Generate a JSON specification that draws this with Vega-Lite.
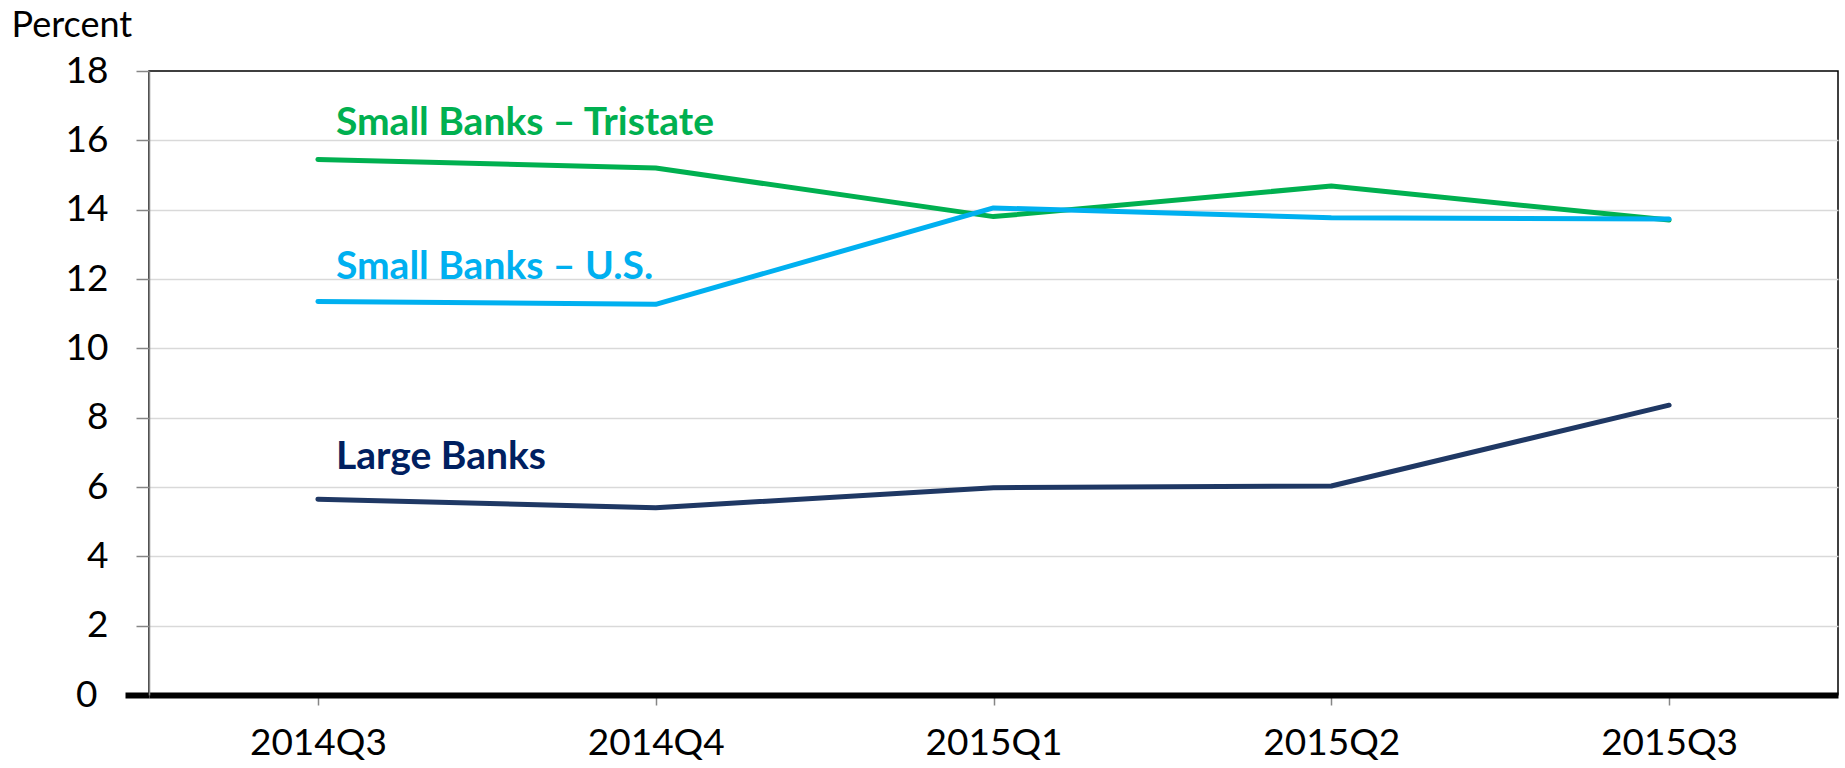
{
  "$schema": "https://vega.github.io/schema/vega-lite/v6.json",
  "width": 1689,
  "height": 624,
  "autosize": {"type": "none"},
  "padding": {"left": 149, "top": 71, "right": 7, "bottom": 73},
  "config": {"view": {"stroke": "black", "strokeWidth": 1.5}, "font": "Lato"},
  "datasets": {
    "lines": [
      {"series": "Small Banks – Tristate", "quarter": "2014Q3", "value": 15.45},
      {"series": "Small Banks – Tristate", "quarter": "2014Q4", "value": 15.2},
      {"series": "Small Banks – Tristate", "quarter": "2015Q1", "value": 13.8},
      {"series": "Small Banks – Tristate", "quarter": "2015Q2", "value": 14.68},
      {"series": "Small Banks – Tristate", "quarter": "2015Q3", "value": 13.7},
      {"series": "Small Banks – U.S.", "quarter": "2014Q3", "value": 11.35},
      {"series": "Small Banks – U.S.", "quarter": "2014Q4", "value": 11.27},
      {"series": "Small Banks – U.S.", "quarter": "2015Q1", "value": 14.05},
      {"series": "Small Banks – U.S.", "quarter": "2015Q2", "value": 13.77},
      {"series": "Small Banks – U.S.", "quarter": "2015Q3", "value": 13.73},
      {"series": "Large Banks", "quarter": "2014Q3", "value": 5.65},
      {"series": "Large Banks", "quarter": "2014Q4", "value": 5.4},
      {"series": "Large Banks", "quarter": "2015Q1", "value": 5.98},
      {"series": "Large Banks", "quarter": "2015Q2", "value": 6.03},
      {"series": "Large Banks", "quarter": "2015Q3", "value": 8.36}
    ],
    "labels": [
      {"series": "Small Banks – Tristate", "quarter": "2014Q3", "value": 16.5},
      {"series": "Small Banks – U.S.", "quarter": "2014Q3", "value": 12.36},
      {"series": "Large Banks", "quarter": "2014Q3", "value": 6.86}
    ]
  },
  "layer": [
    {
      "data": {"name": "lines"},
      "mark": {"type": "line", "strokeWidth": 5, "strokeCap": "round", "strokeJoin": "round"},
      "encoding": {
        "x": {
          "field": "quarter", "type": "ordinal", "sort": null,
          "scale": {"type": "point", "padding": 0.5},
          "axis": {
            "title": null, "labelAngle": 0, "labelFontSize": 37, "labelColor": "black",
            "labelPadding": 20, "tickColor": "#868686", "tickSize": 10, "tickWidth": 1.5,
            "domainColor": "black", "domainWidth": 6, "grid": false
          }
        },
        "y": {
          "field": "value", "type": "quantitative",
          "scale": {"domain": [0, 18], "nice": false},
          "axis": {
            "values": [0, 2, 4, 6, 8, 10, 12, 14, 16, 18],
            "title": "Percent", "titleAngle": 0, "titleAlign": "left", "titleBaseline": "middle",
            "titleX": -138, "titleY": -46, "titleFontSize": 36, "titleFontWeight": "normal", "titleColor": "black",
            "labelFontSize": 37, "labelColor": "black", "labelPadding": 28,
            "domainColor": "#868686", "domainWidth": 1.5,
            "tickColor": {"condition": {"test": "datum.value === 0", "value": "black"}, "value": "#868686"},
            "tickWidth": {"condition": {"test": "datum.value === 0", "value": 6}, "value": 1.5},
            "tickSize": {"condition": {"test": "datum.value === 0", "value": 24}, "value": 13},
            "gridColor": "#D9D9D9", "gridWidth": 1.5,
            "gridOpacity": {"condition": {"test": "datum.value === 18", "value": 0}, "value": 1}
          }
        },
        "color": {
          "field": "series", "type": "nominal",
          "scale": {"domain": ["Small Banks – Tristate", "Small Banks – U.S.", "Large Banks"], "range": ["#00B050", "#00B0F0", "#1F3864"]},
          "legend": null
        }
      }
    },
    {
      "data": {"name": "labels"},
      "mark": {"type": "text", "align": "left", "baseline": "middle", "fontWeight": "bold", "fontSize": 39, "dx": 18},
      "encoding": {
        "x": {"field": "quarter", "type": "ordinal", "sort": null},
        "y": {"field": "value", "type": "quantitative"},
        "text": {"field": "series"},
        "color": {
          "field": "series", "type": "nominal",
          "scale": {"domain": ["Small Banks – Tristate", "Small Banks – U.S.", "Large Banks"], "range": ["#00B050", "#00B0F0", "#002060"]},
          "legend": null
        }
      }
    }
  ],
  "resolve": {"scale": {"color": "independent"}}
}
